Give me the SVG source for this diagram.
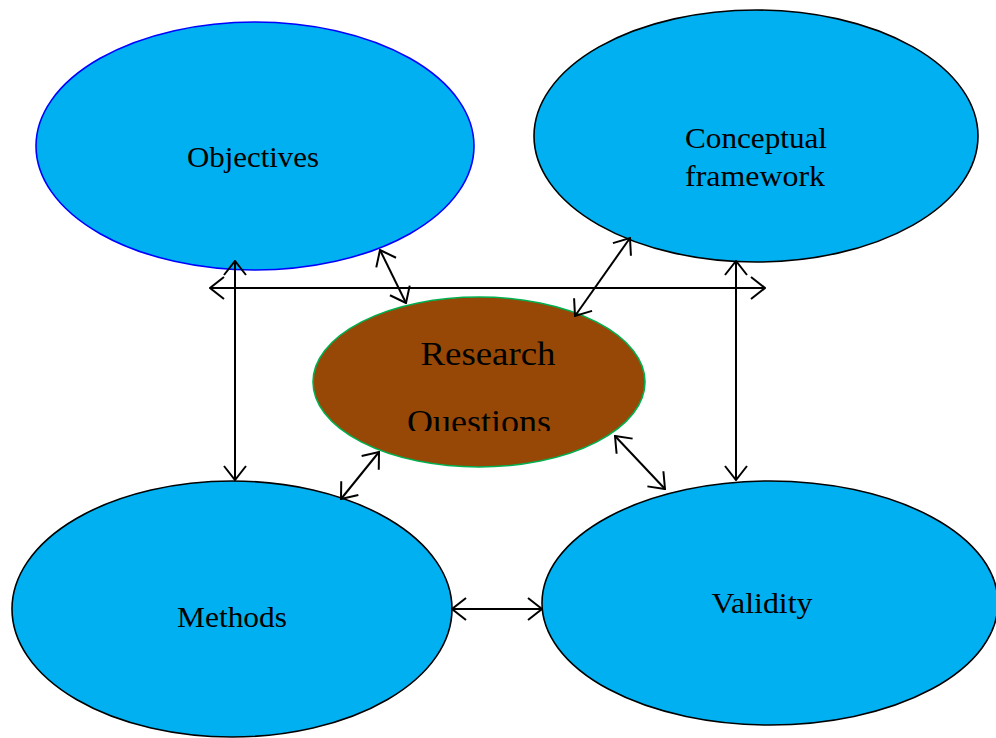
<svg xmlns="http://www.w3.org/2000/svg" width="996" height="738" viewBox="0 0 996 738">
<style>
.node{fill:#00b0f0;stroke:#000;stroke-width:1.6}
.lbl{font-family:"Liberation Serif","Times New Roman",serif;font-size:30px;fill:#000;text-anchor:middle}
.con line{stroke:#000;stroke-width:2;fill:none;marker-start:url(#ah);marker-end:url(#ah)}
</style>
<defs>
<marker id="ah" viewBox="0 0 16 24" refX="15" refY="12" markerWidth="16" markerHeight="24" markerUnits="userSpaceOnUse" orient="auto-start-reverse">
<path d="M1,1 L15,12 L1,23" fill="none" stroke="#000" stroke-width="2"/>
</marker>
<clipPath id="rqclip"><rect x="300" y="290" width="360" height="141"/></clipPath>
</defs>
<rect width="996" height="738" fill="#fff"/>
<g id="objectives">
<ellipse cx="255" cy="146" rx="219" ry="124" class="node" style="stroke:#0000ff"/>
<text x="253" y="167" class="lbl" textLength="132" lengthAdjust="spacingAndGlyphs">Objectives</text>
</g>
<g id="conceptual">
<ellipse cx="756" cy="136" rx="222" ry="126" class="node"/>
<text x="756" y="148" class="lbl" textLength="142" lengthAdjust="spacingAndGlyphs">Conceptual</text>
<text x="755" y="186" class="lbl" textLength="140" lengthAdjust="spacingAndGlyphs">framework</text>
</g>
<g id="methods">
<ellipse cx="232" cy="609" rx="220" ry="128" class="node"/>
<text x="232" y="627" class="lbl" textLength="110" lengthAdjust="spacingAndGlyphs">Methods</text>
</g>
<g id="validity">
<ellipse cx="770" cy="603" rx="228" ry="122" class="node"/>
<text x="762" y="613" class="lbl" textLength="101" lengthAdjust="spacingAndGlyphs">Validity</text>
</g>
<g id="research-questions">
<ellipse cx="479" cy="382" rx="166" ry="85" fill="#974806" stroke="#00b050" stroke-width="1.6"/>
<g clip-path="url(#rqclip)">
<text x="488" y="365" class="lbl" style="font-size:33px" textLength="135" lengthAdjust="spacingAndGlyphs">Research</text>
<text x="479" y="433" class="lbl" style="font-size:33px" textLength="144" lengthAdjust="spacingAndGlyphs">Questions</text>
</g>
</g>
<g id="connectors" class="con">
<line x1="210" y1="288" x2="765" y2="288"/>
<line x1="235" y1="261" x2="235" y2="480"/>
<line x1="736" y1="261" x2="736" y2="480"/>
<line x1="380" y1="250" x2="406" y2="303"/>
<line x1="630" y1="238" x2="575" y2="316"/>
<line x1="379" y1="452" x2="341" y2="499"/>
<line x1="615" y1="436" x2="665" y2="489"/>
<line x1="452" y1="609" x2="542" y2="609"/>
</g>
</svg>
